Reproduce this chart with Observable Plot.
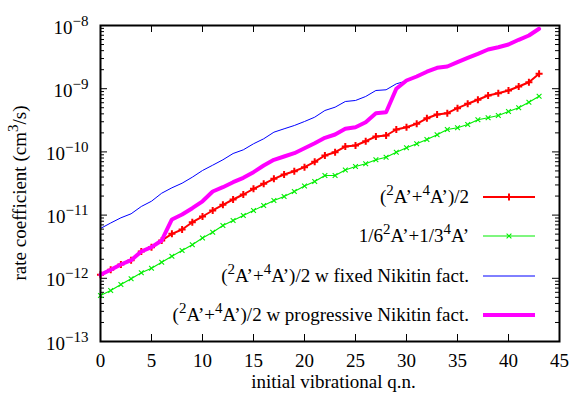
<!DOCTYPE html>
<html><head><meta charset="utf-8">
<script src="https://cdn.jsdelivr.net/npm/d3@7"></script>
<script src="https://cdn.jsdelivr.net/npm/@observablehq/plot@0.6"></script>
<style>
html,body{margin:0;padding:0;background:#fff;}
#chart svg{display:block;}
</style></head><body><div id="chart"></div>
<script>
// initial vibrational quantum number
const vibQN = [0,1,2,3,4,5,6,7,8,9,10,11,12,13,14,15,16,17,18,19,20,21,22,23,24,25,26,27,28,29,30,31,32,33,34,35,36,37,38,39,40,41,42,43];
// (2A'+4A')/2
const avgRate = [1.136e-12,1.363e-12,1.653e-12,1.934e-12,2.656e-12,3.105e-12,3.964e-12,5.06e-12,5.92e-12,7.72e-12,9.50e-12,1.183e-11,1.455e-11,1.765e-11,2.118e-11,2.607e-11,3.128e-11,3.752e-11,4.39e-11,4.95e-11,5.73e-11,6.97e-11,8.77e-11,9.89e-11,1.217e-10,1.263e-10,1.476e-10,1.752e-10,1.817e-10,2.262e-10,2.459e-10,2.784e-10,3.40e-10,3.907e-10,4.096e-10,4.915e-10,5.77e-10,6.675e-10,7.80e-10,8.49e-10,9.37e-10,1.083e-9,1.267e-9,1.721e-9];
// 1/6 2A' + 1/3 4A'
const weightedRate = [5.34e-13,6.41e-13,7.98e-13,9.82e-13,1.222e-12,1.445e-12,1.798e-12,2.237e-12,2.754e-12,3.389e-12,4.342e-12,5.363e-12,6.845e-12,8.215e-12,9.86e-12,1.183e-11,1.419e-11,1.702e-11,1.969e-11,2.362e-11,2.886e-11,3.40e-11,4.232e-11,4.232e-11,5.17e-11,5.875e-11,6.48e-11,7.50e-11,8.245e-11,9.89e-11,1.161e-10,1.344e-10,1.571e-10,1.865e-10,2.262e-10,2.406e-10,2.714e-10,3.22e-10,3.464e-10,3.766e-10,4.357e-10,4.986e-10,6.114e-10,7.61e-10];
// (2A'+4A')/2 w fixed Nikitin fact. (v = 0..30)
const fixedNikitin = [6.14e-12,7.50e-12,9.06e-12,1.049e-11,1.368e-11,1.659e-11,2.22e-11,2.704e-11,3.196e-11,3.978e-11,5.08e-11,6.16e-11,7.50e-11,9.43e-11,1.079e-10,1.344e-10,1.612e-10,2.05e-10,2.32e-10,2.616e-10,3.027e-10,3.54e-10,4.52e-10,5.10e-10,6.27e-10,6.51e-10,7.53e-10,9.37e-10,9.61e-10,1.195e-9,1.324e-9];
// (2A'+4A')/2 w progressive Nikitin fact.
const progNikitin = [1.136e-12,1.363e-12,1.653e-12,1.934e-12,2.656e-12,3.105e-12,3.964e-12,8.52e-12,1.022e-11,1.286e-11,1.653e-11,2.362e-11,2.764e-11,3.316e-11,3.893e-11,4.773e-11,6.09e-11,7.50e-11,8.456e-11,9.54e-11,1.140e-10,1.373e-10,1.672e-10,1.885e-10,2.32e-10,2.459e-10,2.95e-10,4.096e-10,4.25e-10,9.96e-10,1.348e-9,1.56e-9,1.858e-9,2.142e-9,2.246e-9,2.626e-9,3.083e-9,3.566e-9,4.172e-9,4.536e-9,5.004e-9,5.94e-9,6.947e-9,8.87e-9];

const xTicks = [0,5,10,15,20,25,30,35,40,45];
const yTicks = [1e-13,1e-12,1e-11,1e-10,1e-9,1e-8];
const yTickExp = ["-13","-12","-11","-10","-9","-8"];
const yMinor = [];
yTicks.slice(0,-1).forEach(d => { for (let k = 2; k <= 9; k++) yMinor.push(d * k); });

const toRows = (xs, ys) => ys.map((y, i) => ({x: xs[i], y}));
const avgRows = toRows(vibQN, avgRate);
const wRows = toRows(vibQN, weightedRate);
const fixRows = toRows(vibQN, fixedNikitin);
const progRows = toRows(vibQN, progNikitin);

const W = 571, H = 399, mL = 100, mR = 12, mT = 25, mB = 58;
const iw = W - mL - mR, ih = H - mT - mB;
const FONT = "'Liberation Serif', 'Times New Roman', serif";
const RED_R = 2.4, GREEN_R = 2.3;

const chart = Plot.plot({
  width: W, height: H,
  marginLeft: mL, marginRight: mR, marginTop: mT, marginBottom: mB,
  style: {fontFamily: FONT, fontSize: "19px", background: "white", color: "black", overflow: "visible"},
  x: {domain: [0, 45]},
  y: {type: "log", domain: [1e-13, 1e-8]},
  marks: [
    Plot.axisX(xTicks, {tickSize: 0, tickPadding: 12, label: null, tickFormat: d => String(d)}),
    Plot.axisY(yTicks, {tickSize: 0, tickPadding: 12, label: null, tickFormat: d => "10^" + yTickExp[yTicks.indexOf(d)]}),
    // inward ticks
    Plot.tickY(yTicks, {y: d => d, insetRight: iw - 7, stroke: "black", strokeWidth: 1}),
    Plot.tickY(yTicks, {y: d => d, insetLeft: iw - 7, stroke: "black", strokeWidth: 1}),
    Plot.tickY(yMinor, {y: d => d, insetRight: iw - 4, stroke: "black", strokeWidth: 1}),
    Plot.tickY(yMinor, {y: d => d, insetLeft: iw - 4, stroke: "black", strokeWidth: 1}),
    Plot.tickX(xTicks, {x: d => d, insetTop: ih - 7, stroke: "black", strokeWidth: 1}),
    Plot.tickX(xTicks, {x: d => d, insetBottom: ih - 7, stroke: "black", strokeWidth: 1}),
    // series
    Plot.line(avgRows, {x: "x", y: "y", stroke: "#ff0000", strokeWidth: 2}),
    Plot.dot(avgRows, {x: "x", y: "y", symbol: "plus", r: RED_R, stroke: "#ff0000", strokeWidth: 2}),
    Plot.line(wRows, {x: "x", y: "y", stroke: "#00ee00", strokeWidth: 1.1}),
    Plot.dot(wRows, {x: "x", y: "y", symbol: "times", r: GREEN_R, stroke: "#00ee00", strokeWidth: 1.1}),
    Plot.line(fixRows, {x: "x", y: "y", stroke: "#0000ff", strokeWidth: 1}),
    Plot.line(progRows, {x: "x", y: "y", stroke: "#ff00ff", strokeWidth: 4}),
    Plot.frame({stroke: "black", strokeWidth: 2})
  ]
});
document.getElementById("chart").appendChild(chart);

const svg = d3.select(chart);
// superscripted y tick labels
svg.selectAll('g[aria-label="y-axis tick label"] text').each(function() {
  const t = d3.select(this);
  const [base, exp] = t.text().split("^");
  t.text(null);
  t.append("tspan").attr("dy", "2").text(base);
  t.append("tspan").attr("dy", "-8").attr("font-size", "15px").text(exp.replace("-", "\u2212"));
});

function supText(sel, parts) {
  let raised = false;
  parts.forEach(([s, sup]) => {
    const ts = sel.append("tspan").text(s);
    if (sup && !raised) { ts.attr("dy", -8).attr("font-size", "15px"); raised = true; }
    else if (sup) { ts.attr("font-size", "15px"); }
    else if (raised) { ts.attr("dy", 8); raised = false; }
  });
}

// axis titles
svg.append("text").attr("x", mL + iw / 2 + 4).attr("y", 388)
  .attr("text-anchor", "middle").attr("font-family", FONT).attr("font-size", 19).attr("fill", "black")
  .text("initial vibrational q.n.");
const yt = svg.append("text").attr("transform", `translate(26,${mT + ih / 2 + 10}) rotate(-90)`)
  .attr("text-anchor", "middle").attr("font-family", FONT).attr("font-size", 19).attr("fill", "black");
supText(yt, [["rate coefficient (cm", false], ["3", true], ["/s)", false]]);

// legend
const legendLabels = [
  [["(", false], ["2", true], ["A\u2019+", false], ["4", true], ["A\u2019)/2", false]],
  [["1/6", false], ["2", true], ["A\u2019+1/3", false], ["4", true], ["A\u2019", false]],
  [["(", false], ["2", true], ["A\u2019+", false], ["4", true], ["A\u2019)/2 w fixed Nikitin fact.", false]],
  [["(", false], ["2", true], ["A\u2019+", false], ["4", true], ["A\u2019)/2 w progressive Nikitin fact.", false]]
];
const legendStyle = [
  {stroke: "#ff0000", w: 2, sym: d3.symbolPlus, r: RED_R},
  {stroke: "#00ee00", w: 1.1, sym: d3.symbolTimes, r: GREEN_R},
  {stroke: "#0000ff", w: 1, sym: null},
  {stroke: "#ff00ff", w: 4, sym: null}
];
const rowY = [197, 236, 276, 315];
const lg = svg.append("g").attr("aria-label", "legend");
legendLabels.forEach((parts, i) => {
  const t = lg.append("text").attr("x", 469).attr("y", rowY[i] + 6)
    .attr("text-anchor", "end").attr("font-family", FONT).attr("font-size", 19).attr("fill", "black");
  supText(t, parts);
  const st = legendStyle[i];
  lg.append("line").attr("x1", 483).attr("x2", 535).attr("y1", rowY[i]).attr("y2", rowY[i])
    .attr("stroke", st.stroke).attr("stroke-width", st.w);
  if (st.sym) {
    lg.append("path").attr("d", d3.symbol(st.sym, Math.PI * st.r * st.r)())
      .attr("transform", `translate(509,${rowY[i]})`).attr("fill", "none")
      .attr("stroke", st.stroke).attr("stroke-width", st.w);
  }
});
</script></body></html>
